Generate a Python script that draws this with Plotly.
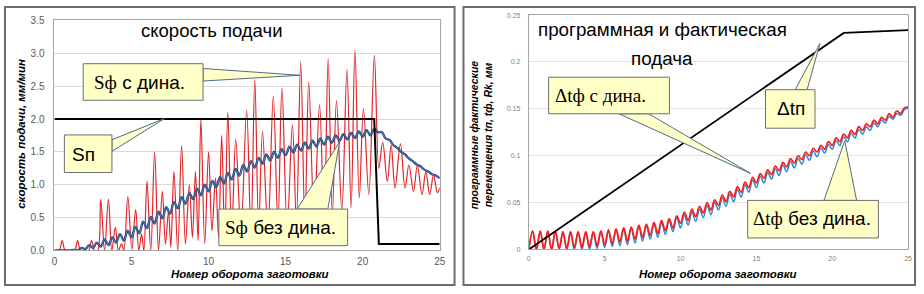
import plotly.graph_objects as go

W, H = 924, 294

# ---------------- data: left panel (скорость подачи) ----------------
left_xticks = [0, 5, 10, 15, 20, 25]
left_yticks = [0, 0.5, 1.0, 1.5, 2.0, 2.5, 3.0, 3.5]

# Sп (programmed feed)
sp_x = [0, 20.75, 21.05, 25]
sp_y = [2.0, 2.0, 0.1, 0.1]

# Sф с дина. (peaks and troughs)
lr_x = [0, 0.3, 0.5, 0.7, 1.3, 1.5, 1.7, 2.2, 2.4, 2.6,
        2.8, 3.0, 3.25, 3.5, 3.72, 3.95, 4.15, 4.35, 4.5, 4.76, 5.02, 5.27, 5.47, 5.65, 5.8,
        6.0, 6.25, 6.5, 6.75, 7.0, 7.2, 7.4, 7.55, 7.75, 8.0, 8.25, 8.5, 8.75, 8.95, 9.15,
        9.32, 9.5, 9.75, 10.0, 10.22, 10.45, 10.65, 10.85, 11.05, 11.25, 11.5, 11.76, 12.1,
        12.47, 12.75, 13.0, 13.25, 13.5, 13.85, 14.2, 14.5, 14.76, 15.1, 15.44, 15.7, 15.98,
        16.25, 16.5, 16.85, 17.2, 17.5, 17.76, 18.03, 18.3, 18.65, 18.98, 19.25, 19.5, 19.78,
        20.05, 20.4, 20.76, 21.05, 21.3, 21.6, 21.85, 22.1, 22.45, 22.75, 23.0, 23.3, 23.55,
        23.85, 24.1, 24.35, 24.6, 24.85, 25.0]
lr_y = [0, 0, 0.15, 0, 0, 0.15, 0, 0, 0.15, 0,
        0, 0.78, 0, 0.78, 0, 0.35, 0, 0.1, 0, 0.82, 0.02, 0.62, 0, 0.25, 0,
        1.05, 0, 1.5, 0, 0.9, 0.1, 0.6, 0.05, 1.2, 0, 1.6, 0.1, 1.0, 0.2, 1.2,
        0.15, 2.0, 0.1, 1.5, 0.3, 1.1, 0.2, 1.75, 0.15, 2.1, 0.25, 1.69, 0.3,
        2.13, 0.25, 2.6, 0.35, 1.81, 0.3, 2.35, 0.4, 2.47, 0.35, 1.91, 0.45, 2.87,
        0.4, 2.56, 0.5, 2.22, 0.45, 2.92, 0.55, 2.28, 0.6, 2.75, 0.65, 3.05, 0.8,
        2.16, 0.85, 2.97, 1.25, 1.65, 1.05, 1.6, 0.95, 1.62, 0.95, 1.3, 0.9, 1.3,
        0.85, 1.2, 0.85, 1.15, 0.88, 0.95]

# Sф без дина. (quarter-revolution samples)
lb_x = [i / 4 for i in range(101)]
lb_y = [0, 0, 0, 0, 0, 0.01, 0.0, 0.04, 0.02, 0.08,
        0.04, 0.12, 0.06, 0.17, 0.08, 0.2, 0.12, 0.25, 0.15, 0.3,
        0.2, 0.36, 0.26, 0.44, 0.34, 0.51, 0.41, 0.59, 0.49, 0.66,
        0.56, 0.74, 0.64, 0.81, 0.71, 0.87, 0.78, 0.94, 0.84, 1.0,
        0.9, 1.06, 0.96, 1.12, 1.02, 1.18, 1.08, 1.24, 1.14, 1.3,
        1.2, 1.36, 1.26, 1.41, 1.32, 1.46, 1.37, 1.5, 1.41, 1.54,
        1.45, 1.58, 1.49, 1.61, 1.52, 1.64, 1.55, 1.67, 1.58, 1.7,
        1.61, 1.73, 1.64, 1.75, 1.67, 1.77, 1.69, 1.79, 1.71, 1.81,
        1.73, 1.83, 1.75, 1.85, 1.8, 1.8, 1.7, 1.68, 1.6, 1.56,
        1.5, 1.46, 1.4, 1.36, 1.31, 1.28, 1.23, 1.2, 1.16, 1.14,
        1.1]

# ---------------- data: right panel (программная и фактическая подача) ----------------
right_xticks = [0, 5, 10, 15, 20, 25]
right_yticks = [0, 0.05, 0.1, 0.15, 0.2, 0.25]
right_yticktext = ["0", "0.05", "0.1", "0.15", "0.2", "0.25"]

tp_x = [0, 20.76, 25]
tp_y = [0, 0.231, 0.234]

rr_x = [i / 4 for i in range(101)]
rr_y = [0.0, 0.02, 0.0, 0.02, 0.0, 0.02, 0.0, 0.02, 0.001, 0.019,
        0.001, 0.019, 0.002, 0.019, 0.002, 0.019, 0.003, 0.019, 0.004, 0.02,
        0.005, 0.021, 0.006, 0.022, 0.008, 0.023, 0.009, 0.024, 0.011, 0.026,
        0.013, 0.027, 0.015, 0.029, 0.017, 0.031, 0.02, 0.033, 0.023, 0.036,
        0.028, 0.04, 0.031, 0.043, 0.035, 0.046, 0.039, 0.05, 0.042, 0.053,
        0.047, 0.058, 0.051, 0.062, 0.056, 0.067, 0.061, 0.072, 0.066, 0.077,
        0.071, 0.081, 0.076, 0.085, 0.08, 0.089, 0.084, 0.093, 0.088, 0.097,
        0.092, 0.1, 0.096, 0.104, 0.1, 0.108, 0.104, 0.111, 0.107, 0.115,
        0.111, 0.119, 0.115, 0.123, 0.119, 0.127, 0.123, 0.131, 0.127, 0.134,
        0.131, 0.138, 0.134, 0.141, 0.138, 0.145, 0.141, 0.148, 0.145, 0.151,
        0.152]
rb_y = [0.0, 0.019, 0.0, 0.019, 0.0, 0.019, 0.0, 0.019, 0.0, 0.018,
        0.0, 0.018, 0.0, 0.018, 0.0, 0.018, 0.0, 0.018, 0.001, 0.019,
        0.002, 0.02, 0.003, 0.021, 0.004, 0.022, 0.005, 0.023, 0.007, 0.024,
        0.009, 0.025, 0.011, 0.027, 0.013, 0.029, 0.016, 0.031, 0.019, 0.034,
        0.023, 0.037, 0.026, 0.04, 0.03, 0.043, 0.034, 0.047, 0.037, 0.05,
        0.042, 0.055, 0.046, 0.059, 0.051, 0.064, 0.056, 0.069, 0.061, 0.074,
        0.066, 0.078, 0.071, 0.082, 0.075, 0.086, 0.079, 0.09, 0.083, 0.094,
        0.087, 0.097, 0.091, 0.101, 0.095, 0.105, 0.099, 0.108, 0.103, 0.112,
        0.107, 0.116, 0.111, 0.12, 0.115, 0.124, 0.119, 0.128, 0.123, 0.131,
        0.127, 0.135, 0.131, 0.138, 0.135, 0.142, 0.139, 0.145, 0.143, 0.149,
        0.151]

# ---------------- helpers ----------------
def px(x):
    return x / W

def py(y):
    return 1 - y / H

SANS = "Liberation Sans"
SERIF = "Liberation Serif"

fig = go.Figure()

# left traces
fig.add_trace(go.Scatter(x=lr_x, y=lr_y, xaxis="x", yaxis="y", mode="lines",
                         line=dict(color="#E3262A", width=1.2, shape="spline"), hoverinfo="skip"))
fig.add_trace(go.Scatter(x=lb_x, y=lb_y, xaxis="x", yaxis="y", mode="lines",
                         line=dict(color="#1F3B70", width=2.3, shape="spline"), hoverinfo="skip"))
fig.add_trace(go.Scatter(x=lb_x, y=lb_y, xaxis="x", yaxis="y", mode="lines",
                         line=dict(color="#6FA8DC", width=0.7, shape="spline"), hoverinfo="skip"))
fig.add_trace(go.Scatter(x=sp_x, y=sp_y, xaxis="x", yaxis="y", mode="lines",
                         line=dict(color="#000000", width=2), hoverinfo="skip"))

# right traces
fig.add_trace(go.Scatter(x=rr_x, y=rb_y, xaxis="x2", yaxis="y2", mode="lines",
                         line=dict(color="#2E8BD0", width=1.5, shape="spline"), hoverinfo="skip"))
fig.add_trace(go.Scatter(x=rr_x, y=rr_y, xaxis="x2", yaxis="y2", mode="lines",
                         line=dict(color="#FF1A1A", width=1.7, shape="spline"), hoverinfo="skip"))
fig.add_trace(go.Scatter(x=tp_x, y=tp_y, xaxis="x2", yaxis="y2", mode="lines",
                         line=dict(color="#000000", width=1.8), hoverinfo="skip"))

axis_common = dict(showline=True, mirror=True, linecolor="#A6A6A6", linewidth=1,
                   zeroline=False, ticks="", fixedrange=True)

fig.update_layout(
    width=W, height=H,
    margin=dict(l=0, r=0, t=0, b=0),
    paper_bgcolor="white", plot_bgcolor="white",
    showlegend=False, hovermode=False,
    font=dict(family=SANS, color="#000000"),
    xaxis=dict(domain=[px(52), px(441)], range=[0, 25], tickvals=left_xticks,
               showgrid=False, anchor="y", ticklabelstandoff=2,
               tickfont=dict(size=10, color="#595959", family=SANS), **axis_common),
    yaxis=dict(domain=[py(255), py(16)], range=[0, 3.5], tickvals=left_yticks,
               tickformat=".1f", showgrid=True, gridcolor="#D9D9D9", gridwidth=1,
               anchor="x", ticklabelstandoff=7,
               tickfont=dict(size=10, color="#595959", family=SANS), **axis_common),
    xaxis2=dict(domain=[px(531), px(914)], range=[0, 25], tickvals=right_xticks,
                showgrid=False, anchor="y2", ticklabelstandoff=2,
                tickfont=dict(size=7, color="#7F7F7F", family=SANS), **axis_common),
    yaxis2=dict(domain=[py(254), py(10.5)], range=[0, 0.25], tickvals=right_yticks,
                ticktext=right_yticktext, showgrid=True, gridcolor="#E3E3E3", gridwidth=1,
                anchor="x2", ticklabelstandoff=6,
                tickfont=dict(size=7, color="#7F7F7F", family=SANS), **axis_common),
)

shapes = []
annotations = []

# panel frames
for (x0, y0, x1, y1) in [(2, 2, 456, 291), (465, 2, 921, 291)]:
    shapes.append(dict(type="rect", xref="paper", yref="paper",
                       x0=px(x0), y0=py(y1), x1=px(x1), y1=py(y0),
                       line=dict(color="#6E6E6E", width=2), fillcolor="rgba(0,0,0,0)",
                       layer="above"))

# callouts: box (x0,y0,x1,y1), wedge base points + tip, text, text-left x, centre y
callouts = [
    dict(box=(81, 61, 202, 99), wedge=((202, 66), (202, 79), (300, 73)),
         text=f"<span style='font-family:{SERIF}'>Sф</span> с дина.", tx=90, ty=80),
    dict(box=(62, 135, 110, 174), wedge=((110, 140), (110, 152), (163, 118)),
         text="Sп", tx=68, ty=155),
    dict(box=(218, 212, 348, 250), wedge=((297, 212), (328, 212), (340, 142)),
         text=f"<span style='font-family:{SERIF}'>Sф</span> без дина.", tx=222, ty=231),
    dict(box=(551, 75, 673, 113), wedge=((622, 113), (652, 113), (755, 175)),
         text=f"<span style='font-family:{SERIF}'>Δtф с дина.</span>", tx=555, ty=94),
    dict(box=(770, 88, 820, 128), wedge=((800, 88), (812, 88), (825, 40)),
         text="Δtп", tx=780, ty=108),
    dict(box=(752, 203, 884, 242), wedge=((829, 203), (862, 203), (850, 141)),
         text=f"<span style='font-family:{SERIF}'>Δtф</span> без дина.", tx=755, ty=222),
]
FILL = "#FFFFC8"
for c in callouts:
    (ax, ay), (bx, by), (tx_, ty_) = c["wedge"]
    path = (f"M {px(ax)},{py(ay)} L {px(tx_)},{py(ty_)} L {px(bx)},{py(by)} Z")
    shapes.append(dict(type="path", xref="paper", yref="paper", path=path,
                       fillcolor=FILL, line=dict(color="#4F6A8F", width=1), layer="above"))
    x0, y0, x1, y1 = c["box"]
    shapes.append(dict(type="rect", xref="paper", yref="paper",
                       x0=px(x0), y0=py(y1), x1=px(x1), y1=py(y0),
                       fillcolor=FILL, line=dict(color="#6E6E6E", width=1), layer="above"))
    annotations.append(dict(xref="paper", yref="paper", x=px(c["tx"]), y=py(c["ty"]),
                            xanchor="left", yanchor="middle", showarrow=False,
                            text=c["text"], font=dict(size=19, family=SANS, color="#000")))

# titles
annotations.append(dict(xref="paper", yref="paper", x=px(211), y=py(27), xanchor="center",
                        yanchor="middle", showarrow=False, text="скорость подачи",
                        font=dict(size=18.5, family=SANS)))
annotations.append(dict(xref="paper", yref="paper", x=px(666), y=py(25), xanchor="center",
                        yanchor="middle", showarrow=False, text="программная и фактическая",
                        font=dict(size=18.8, family=SANS)))
annotations.append(dict(xref="paper", yref="paper", x=px(665), y=py(56), xanchor="center",
                        yanchor="middle", showarrow=False, text="подача",
                        font=dict(size=18.8, family=SANS)))

# axis titles
annotations.append(dict(xref="paper", yref="paper", x=px(249), y=py(279), xanchor="center",
                        yanchor="middle", showarrow=False,
                        text="<b><i>Номер оборота заготовки</i></b>",
                        font=dict(size=11.5, family=SANS)))
annotations.append(dict(xref="paper", yref="paper", x=px(722), y=py(279), xanchor="center",
                        yanchor="middle", showarrow=False,
                        text="<b><i>Номер оборота заготовки</i></b>",
                        font=dict(size=11.5, family=SANS)))
annotations.append(dict(xref="paper", yref="paper", x=px(18), y=py(134), xanchor="center",
                        yanchor="middle", showarrow=False, textangle=-90,
                        text="<b><i>скорость подачи, мм/мин</i></b>",
                        font=dict(size=11.5, family=SANS)))
annotations.append(dict(xref="paper", yref="paper", x=px(483), y=py(135), xanchor="center",
                        yanchor="middle", showarrow=False, textangle=-90,
                        text="<b><i>программные фактические<br>перемещения tп, tф, Rk, мм</i></b>",
                        font=dict(size=10.5, family=SANS)))

fig.update_layout(shapes=shapes, annotations=annotations)
fig.write_html(
    "out.html",
    config={"displayModeBar": False, "staticPlot": True},
    post_script=("document.body.style.margin='0px';document.body.style.padding='0px';"
                 "document.documentElement.style.overflow='hidden';"
                 "document.body.style.overflow='hidden';"),
)
